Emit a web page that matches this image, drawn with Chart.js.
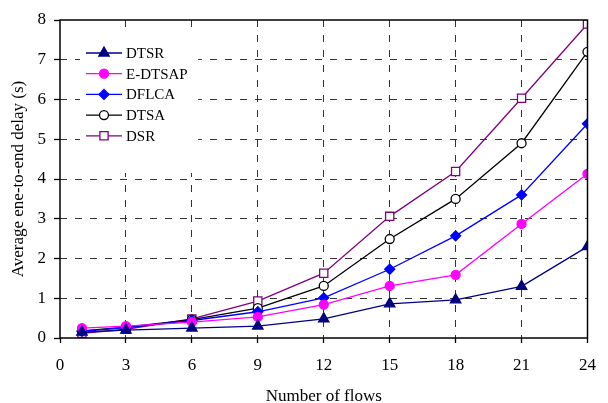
<!DOCTYPE html>
<html>
<head>
<meta charset="utf-8">
<script src="https://cdn.jsdelivr.net/npm/chart.js@4/dist/chart.umd.min.js"></script>
<style>
html,body{margin:0;padding:0;background:#fff;}
#wrap{width:608px;height:403px;position:relative;}
</style>
</head>
<body>
<div id="wrap"><canvas id="c" width="608" height="403"></canvas></div>
<script>
const flows = [1, 3, 6, 9, 12, 15, 18, 21, 24];
const dtsr   = [0.15, 0.20, 0.25, 0.30, 0.48, 0.86, 0.96, 1.30, 2.30];
const edtsap = [0.25, 0.30, 0.40, 0.53, 0.84, 1.31, 1.59, 2.87, 4.13];
const dflca  = [0.17, 0.26, 0.44, 0.66, 1.01, 1.73, 2.57, 3.60, 5.39];
const dtsa   = [0.18, 0.27, 0.46, 0.75, 1.31, 2.49, 3.50, 4.90, 7.20];
const dsr    = [0.12, 0.22, 0.48, 0.93, 1.63, 3.06, 4.19, 6.03, 7.90];
const seriesNames = ['DTSR', 'E-DTSAP', 'DFLCA', 'DTSA', 'DSR'];
const xTickLabels = [0, 3, 6, 9, 12, 15, 18, 21, 24];
const yTickLabels = [0, 1, 2, 3, 4, 5, 6, 7, 8];
const xTitle = 'Number of flows';
const yTitle = 'Average ene-to-end delay (s)';

const serif = "'Liberation Serif', 'Times New Roman', serif";
const toPts = arr => arr.map((v, i) => ({x: flows[i], y: v}));

function ds(label, data, color, style, radius, fill) {
  return {
    label, data: toPts(data), borderColor: color, backgroundColor: fill,
    pointStyle: style, pointRadius: radius, pointHoverRadius: radius,
    pointBorderColor: color, pointBackgroundColor: fill, pointBorderWidth: 1.3,
    borderWidth: 1.3, tension: 0, fill: false
  };
}

const datasets = [
  ds(seriesNames[0], dtsr, '#000080', 'triangle', 6, '#000080'),
  ds(seriesNames[1], edtsap, '#FF00FF', 'circle', 4.5, '#FF00FF'),
  ds(seriesNames[2], dflca, '#0000FF', 'rectRot', 5, '#0000FF'),
  ds(seriesNames[3], dtsa, '#000000', 'circle', 4.5, '#FFFFFF'),
  ds(seriesNames[4], dsr, '#800080', 'rect', 5.8, '#FFFFFF')
];

const framePlugin = {
  id: 'frame',
  afterDatasetsDraw(chart) {
    const {ctx, chartArea: a} = chart;
    ctx.save();
    ctx.strokeStyle = '#000';
    ctx.lineWidth = 1.5;
    ctx.strokeRect(a.left, a.top, a.right - a.left, a.bottom - a.top);
    ctx.restore();
  }
};

const legendPlugin = {
  id: 'insideLegend',
  afterDraw(chart) {
    const {ctx} = chart;
    ctx.save();
    ctx.fillStyle = '#fff';
    ctx.fillRect(80, 33, 118, 140);
    chart.data.datasets.forEach((d, i) => {
      const y = 53 + i * 20.7;
      ctx.strokeStyle = d.borderColor;
      ctx.lineWidth = 1.3;
      ctx.beginPath();
      ctx.moveTo(86, y);
      ctx.lineTo(122, y);
      ctx.stroke();
      ctx.fillStyle = d.pointBackgroundColor;
      ctx.strokeStyle = d.pointBorderColor;
      Chart.helpers.drawPoint(ctx, {pointStyle: d.pointStyle, radius: d.pointRadius, borderWidth: 1.3, rotation: 0}, 104, y);
      ctx.fillStyle = '#000';
      ctx.font = "15px " + serif;
      ctx.textAlign = 'left';
      ctx.textBaseline = 'middle';
      ctx.fillText(d.label, 126, y + 1);
    });
    ctx.restore();
  }
};

const gridColor = (ctx, n) => (ctx.tick && (ctx.index === 0 || ctx.index === n)) ? 'rgba(0,0,0,0)' : '#333';

new Chart(document.getElementById('c'), {
  type: 'line',
  data: {datasets},
  plugins: [framePlugin, legendPlugin],
  options: {
    responsive: false,
    animation: false,
    events: [],
    layout: {padding: {left: 0, right: 11, top: 20, bottom: 0}},
    plugins: {legend: {display: false}, tooltip: {enabled: false}},
    scales: {
      x: {
        type: 'linear', min: 0, max: 24,
        afterBuildTicks: s => { s.ticks = xTickLabels.map(v => ({value: v})); },
        afterFit: s => { s.height = 65; },
        border: {display: false, dash: [7, 8]},
        grid: {
          color: c => gridColor(c, xTickLabels.length - 1),
          lineWidth: 1,
          drawTicks: true, tickLength: 5, tickColor: '#000', tickWidth: 1.3, tickBorderDash: []
        },
        ticks: {color: '#000', font: {family: serif, size: 17}, padding: 12, maxRotation: 0},
        title: {display: true, text: xTitle, color: '#000', font: {family: serif, size: 17, lineHeight: 1}, padding: {top: 0, bottom: -2}}
      },
      y: {
        min: 0, max: 8,
        afterBuildTicks: s => { s.ticks = yTickLabels.map(v => ({value: v})); },
        afterFit: s => { s.width = 60; },
        border: {display: false, dash: [7, 8]},
        grid: {
          color: c => gridColor(c, yTickLabels.length - 1),
          lineWidth: 1,
          drawTicks: true, tickLength: 6, tickColor: '#000', tickWidth: 1.3, tickBorderDash: []
        },
        ticks: {color: '#000', font: {family: serif, size: 17}, padding: 8},
        title: {display: true, text: yTitle, color: '#000', font: {family: serif, size: 17, lineHeight: 1}, padding: {top: 10.5, bottom: 0}}
      }
    }
  }
});
</script>
</body>
</html>
